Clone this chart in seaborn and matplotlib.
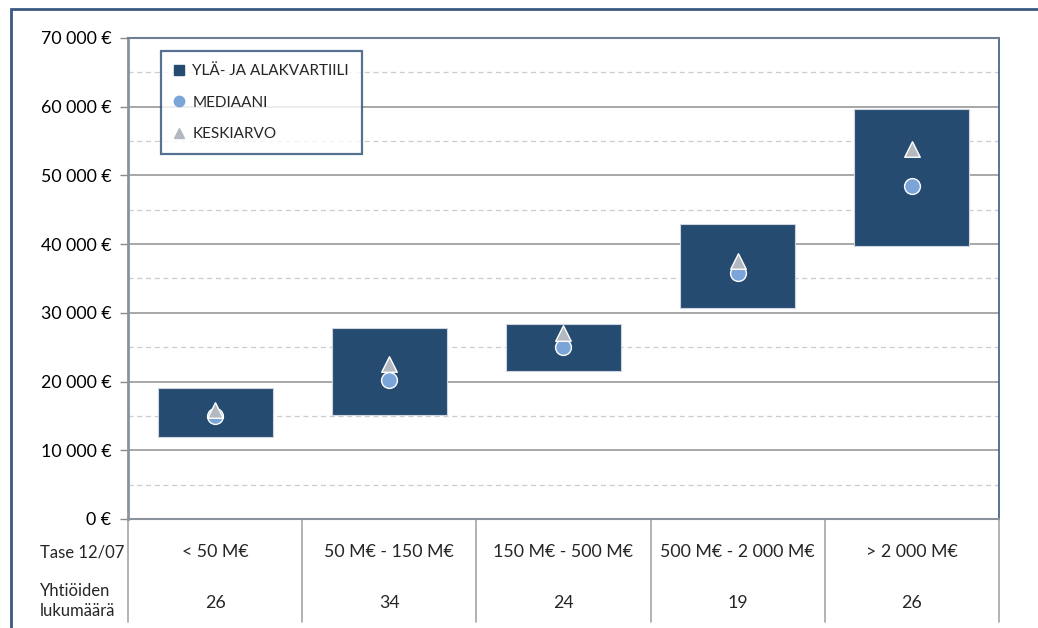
import numpy as np
import pandas as pd
import matplotlib
matplotlib.use("Agg")
import matplotlib.pyplot as plt
import seaborn as sns
from matplotlib.lines import Line2D
from matplotlib.patches import Rectangle
from matplotlib.ticker import MultipleLocator, FuncFormatter

# Data
categories = ["< 50 M€", "50 M€ - 150 M€", "150 M€ - 500 M€", "500 M€ - 2 000 M€", "> 2 000 M€"]
counts = [26, 34, 24, 19, 26]
lower_quartile = [12000, 15100, 21500, 30700, 39700]
upper_quartile = [19000, 27800, 28400, 42900, 59700]
median = [15000, 20200, 25000, 35800, 48500]
mean = [15900, 22600, 27000, 37500, 53900]

row_label_1 = "Tase 12/07"
row_label_2 = "Yhtiöiden\nlukumäärä"
legend_labels = ["YLÄ- JA ALAKVARTIILI", "MEDIAANI", "KESKIARVO"]

box_color = "#264b70"
median_color = "#7ba4d8"
mean_color = "#b3b8c1"

sns.set_theme(style="white")
plt.rcParams["font.family"] = ["Lato", "DejaVu Sans"]

df = pd.DataFrame({
    "pos": np.arange(len(categories)),
    "category": categories,
    "q1": lower_quartile,
    "q3": upper_quartile,
    "median": median,
    "mean": mean,
})

fig = plt.figure(figsize=(10.38, 6.28), dpi=100)
ax = fig.add_axes([0.1233, 0.1736, 0.8391, 0.7659])

# quartile boxes
ax.bar(df["pos"], df["q3"] - df["q1"], bottom=df["q1"], width=0.66,
       color=box_color, edgecolor="#cdd6e0", linewidth=0.8, zorder=3)

# median and mean markers
sns.scatterplot(data=df, x="pos", y="median", ax=ax, marker="o", s=130,
                color=median_color, edgecolor="white", linewidth=1.0, zorder=4)
sns.scatterplot(data=df, x="pos", y="mean", ax=ax, marker="^", s=125,
                color=mean_color, edgecolor="white", linewidth=1.0, zorder=5)

ax.set_xlim(-0.5, len(categories) - 0.5)
ax.set_ylim(0, 70000)
ax.set_xlabel("")
ax.set_ylabel("")
ax.set_xticks([])

ax.yaxis.set_major_locator(MultipleLocator(10000))
ax.yaxis.set_minor_locator(MultipleLocator(5000))
ax.yaxis.set_major_formatter(FuncFormatter(lambda v, p: f"{v:,.0f} €".replace(",", " ")))
ax.tick_params(axis="y", which="major", length=6, width=1, color="#8a8a8a",
               pad=6, labelsize=12.8, labelcolor="black", left=True)
ax.tick_params(axis="y", which="minor", length=0)

ax.set_axisbelow(True)
ax.grid(axis="y", which="major", color="#8f8f8f", linewidth=1.1)
ax.grid(axis="y", which="minor", color="#cccccc", linewidth=0.9, linestyle=(0, (4, 3)))

for side in ["left", "top", "right", "bottom"]:
    ax.spines[side].set_visible(True)
ax.spines["left"].set_color("#8a939c")
ax.spines["left"].set_linewidth(2)
ax.spines["bottom"].set_color("#8a939c")
ax.spines["bottom"].set_linewidth(1.5)
ax.spines["top"].set_color("#6d7f93")
ax.spines["top"].set_linewidth(1.5)
ax.spines["right"].set_color("#3c5a7d")
ax.spines["right"].set_linewidth(1.2)

# table under the plot
tr = ax.get_xaxis_transform()
for b in np.arange(-0.5, len(categories), 1.0):
    ax.plot([b, b], [0, -0.214], transform=tr, color="#a6a6a6",
            linewidth=1.2, clip_on=False)
for i, (cat, n) in enumerate(zip(categories, counts)):
    ax.text(i, -0.069, cat, transform=tr, ha="center", va="center", fontsize=12.8)
    ax.text(i, -0.175, str(n), transform=tr, ha="center", va="center", fontsize=12.8)

fig.text(40 / 1038, 1 - 553 / 628, row_label_1, ha="left", va="center", fontsize=12)
fig.text(40 / 1038, 1 - 601 / 628, row_label_2, ha="left", va="center",
         fontsize=12, linespacing=1.3)

# legend
handles = [
    Line2D([], [], linestyle="none", marker="s", markersize=7.5, color=box_color),
    Line2D([], [], linestyle="none", marker="o", markersize=7.5, color=median_color),
    Line2D([], [], linestyle="none", marker="^", markersize=7.5, color=mean_color),
]
leg = ax.legend(handles, legend_labels, loc="upper left", bbox_to_anchor=(0.038, 0.973),
                borderaxespad=0, frameon=True, fancybox=False, fontsize=11,
                handlelength=0.6, handletextpad=0.6, labelspacing=1.15,
                borderpad=0.85)
leg.get_frame().set_edgecolor("#2d4d75")
leg.get_frame().set_linewidth(1.6)
leg.set_zorder(6)

# outer chart frame
fig.patches.append(Rectangle((11 / 1038, -0.05), 1.1, 1 - 9 / 628 + 0.05,
                             transform=fig.transFigure, fill=False,
                             edgecolor="#3b5a80", linewidth=2))

fig.savefig("out.png", dpi=100)
